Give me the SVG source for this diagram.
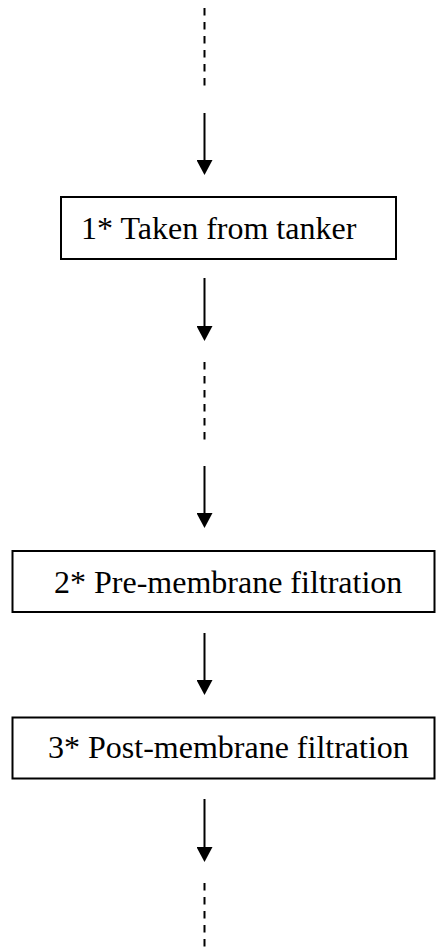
<svg xmlns="http://www.w3.org/2000/svg" width="436" height="947" viewBox="0 0 436 947">
<style>
.box{fill:#fff;stroke:#000;stroke-width:2}
.lbl{font-family:"Liberation Serif","Times New Roman",serif;font-size:32px;fill:#000}
.arr{stroke:#000;stroke-width:2;fill:none;marker-end:url(#ah)}
.dash{stroke:#000;stroke-width:2;fill:none;stroke-dasharray:7.5 6.5}
</style>
<defs>
<marker id="ah" markerUnits="userSpaceOnUse" markerWidth="15" markerHeight="16" viewBox="0 0 15 16" refX="7" refY="8" orient="auto">
<path d="M0,0 L15,8 L0,16 Z" fill="#000"/>
</marker>
</defs>
<rect width="436" height="947" fill="#fff"/>
<g id="connectors">
<line class="dash" x1="204.5" y1="8" x2="204.5" y2="88"/>
<line class="arr" x1="204.5" y1="113" x2="204.5" y2="167"/>
<line class="arr" x1="204.5" y1="278" x2="204.5" y2="333"/>
<line class="dash" x1="204.5" y1="362" x2="204.5" y2="441"/>
<line class="arr" x1="204.5" y1="466" x2="204.5" y2="520"/>
<line class="arr" x1="204.5" y1="633" x2="204.5" y2="687"/>
<line class="arr" x1="204.5" y1="799" x2="204.5" y2="854"/>
<line class="dash" x1="204.5" y1="883" x2="204.5" y2="947"/>
</g>
<g id="node1">
<rect class="box" x="61" y="197" width="335" height="62"/>
<text class="lbl" x="81" y="239">1* Taken from tanker</text>
</g>
<g id="node2">
<rect class="box" x="12.5" y="551" width="422" height="61"/>
<text class="lbl" x="54" y="593">2* Pre-membrane filtration</text>
</g>
<g id="node3">
<rect class="box" x="12.5" y="717.5" width="422" height="61"/>
<text class="lbl" x="48" y="758">3* Post-membrane filtration</text>
</g>
</svg>
